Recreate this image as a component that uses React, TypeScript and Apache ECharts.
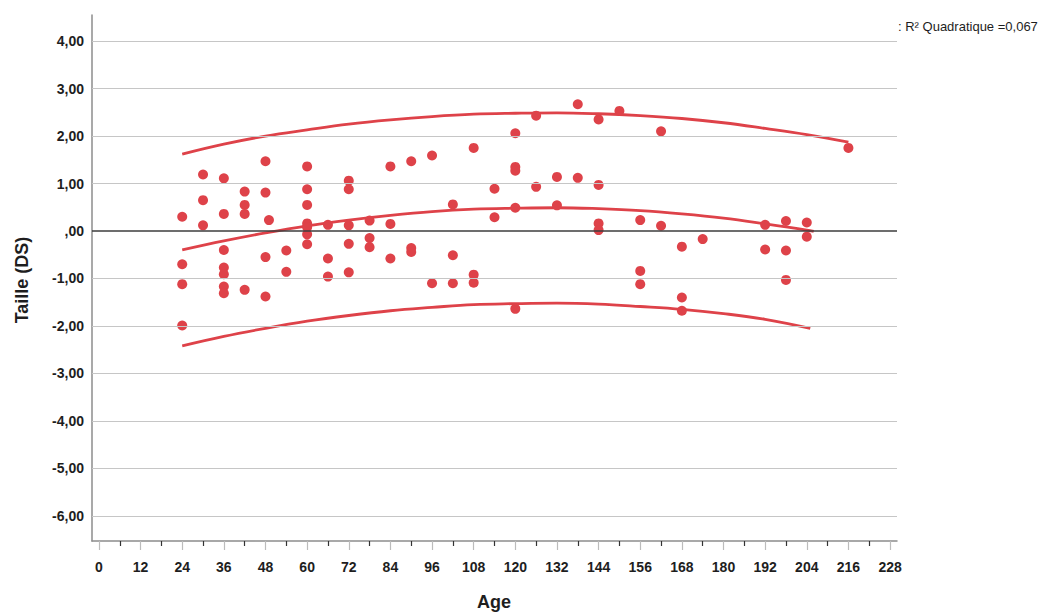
import React, { useEffect, useRef } from "react";
import * as echarts from "echarts";

// Scatter data (age in months, height SDS)
const pointAges = [
  24, 24, 24, 24,
  30, 30, 30,
  36, 36, 36, 36, 36, 36, 36,
  42, 42, 42, 42,
  48, 48, 49, 48, 48,
  54, 54,
  60, 60, 60, 60, 60, 60, 60,
  66, 66, 66,
  72, 72, 72, 72, 72,
  78, 78, 78,
  84, 84, 84,
  90, 90, 90,
  96, 96,
  102, 102, 102,
  108, 108, 108,
  114, 114,
  120, 120, 120, 120, 120,
  126, 126,
  132, 132,
  138, 138,
  144, 144, 144, 144,
  150,
  156, 156, 156,
  162, 162,
  168, 168, 168,
  174,
  192, 192,
  198, 198, 198,
  204, 204,
  216,
];
const pointValues = [
  0.3, -0.7, -1.12, -1.99,
  1.19, 0.65, 0.12,
  1.11, 0.36, -0.4, -0.77, -0.91, -1.17, -1.31,
  0.83, 0.55, 0.36, -1.24,
  1.47, 0.81, 0.23, -0.55, -1.38,
  -0.41, -0.86,
  1.36, 0.88, 0.55, 0.16, 0.08, -0.07, -0.28,
  0.13, -0.58, -0.96,
  1.06, 0.88, 0.12, -0.27, -0.87,
  0.22, -0.15, -0.34,
  1.36, 0.15, -0.58,
  1.47, -0.36, -0.44,
  1.59, -1.1,
  0.56, -0.51, -1.1,
  1.75, -0.92, -1.09,
  0.89, 0.29,
  2.06, 1.35, 1.27, 0.49, -1.64,
  2.43, 0.93,
  1.14, 0.54,
  2.67, 1.12,
  2.35, 0.97, 0.16, 0.02,
  2.53,
  0.23, -0.84, -1.12,
  2.1, 0.11,
  -0.33, -1.4, -1.68,
  -0.17,
  0.13, -0.39,
  0.21, -0.41, -1.03,
  0.18, -0.12,
  1.75,
];

// Quadratic fit and interval curves
const fitAges = [24, 36, 48, 60, 72, 84, 96, 108, 120, 132, 144, 156, 168, 180, 192, 204, 206];
const fitMean = [-0.4, -0.21, -0.04, 0.11, 0.23, 0.33, 0.41, 0.46, 0.48, 0.49, 0.47, 0.43, 0.36, 0.27, 0.15, 0.02, -0.01];
const upperAges = [24, 36, 48, 60, 72, 84, 96, 108, 120, 132, 144, 156, 168, 180, 192, 204, 216];
const upperValues = [1.62, 1.83, 2.0, 2.13, 2.25, 2.34, 2.41, 2.46, 2.48, 2.49, 2.47, 2.43, 2.37, 2.28, 2.16, 2.03, 1.87];
const lowerAges = [24, 36, 48, 60, 72, 84, 96, 108, 120, 132, 144, 156, 168, 180, 192, 205];
const lowerValues = [-2.42, -2.22, -2.05, -1.9, -1.78, -1.68, -1.61, -1.55, -1.53, -1.52, -1.54, -1.59, -1.65, -1.74, -1.86, -2.05];

// Axis ticks
const xMajorTicks = [0, 12, 24, 36, 48, 60, 72, 84, 96, 108, 120, 132, 144, 156, 168, 180, 192, 204, 216, 228];
const xMinorTicks = [6, 18, 30, 42, 54, 66, 78, 90, 102, 114, 126, 138, 150, 162, 174, 186, 198, 210, 222];
const yTicks = [4, 3, 2, 1, 0, -1, -2, -3, -4, -5, -6];

const FONT = "'Liberation Sans', Arial, Helvetica, sans-serif";
const RED = "#de4249";

function fmtY(v: number): string {
  if (Math.abs(v) < 1e-9) return ",00";
  return v.toFixed(2).replace(".", ",");
}

export default function App() {
  const ref = useRef<HTMLDivElement>(null);

  useEffect(() => {
    if (!ref.current) return;
    const chart = echarts.init(ref.current, null, { renderer: "svg" });

    const pairs = (xs: number[], ys: number[]) => xs.map((x, i) => [x, ys[i]]);
    const curveStyle = { color: RED, width: 2.8 };

    const option: any = {
      animation: false,
      backgroundColor: "#ffffff",
      textStyle: { fontFamily: FONT },
      grid: { left: 92, right: 152, top: 15, bottom: 73, containLabel: false },
      xAxis: [
        {
          type: "value",
          min: -2,
          max: 230,
          position: "bottom",
          axisLine: { show: true, onZero: false, lineStyle: { color: "#8c8c8c", width: 1.5 } },
          axisTick: { show: true, customValues: xMajorTicks, length: 9, lineStyle: { color: "#bcbcbc", width: 1.2 } },
          axisLabel: {
            customValues: xMajorTicks,
            fontWeight: "bold",
            fontSize: 14,
            color: "#1e1e1e",
            margin: 19,
            fontFamily: FONT,
          },
          splitLine: { show: false },
        },
        {
          type: "value",
          min: -2,
          max: 230,
          position: "bottom",
          offset: 0,
          axisLine: { show: false, onZero: false },
          axisTick: { show: true, customValues: xMinorTicks, length: 5, lineStyle: { color: "#333333", width: 1.2 } },
          axisLabel: { show: false },
          splitLine: { show: false },
        },
      ],
      yAxis: {
        type: "value",
        min: -6.53,
        max: 4.55,
        axisLine: { show: true, onZero: false, lineStyle: { color: "#8c8c8c", width: 1.5 } },
        axisTick: { show: false },
        axisLabel: {
          customValues: yTicks,
          formatter: (v: number) => fmtY(v),
          fontWeight: "bold",
          fontSize: 14,
          color: "#1e1e1e",
          margin: 8,
          fontFamily: FONT,
        },
        splitLine: { show: false },
      },
      series: [
        {
          type: "line",
          data: [],
          z: 1,
          silent: true,
          markLine: {
            silent: true,
            symbol: "none",
            label: { show: false },
            animation: false,
            data: yTicks.map((v) => ({
              yAxis: v,
              lineStyle: v === 0 ? { color: "#3c3c3c", width: 1.6, type: "solid" } : { color: "#c6c6c6", width: 1, type: "solid" },
            })),
          },
        },
        {
          type: "line",
          data: pairs(upperAges, upperValues),
          smooth: 0.4,
          showSymbol: false,
          lineStyle: curveStyle,
          z: 3,
          silent: true,
        },
        {
          type: "line",
          data: pairs(fitAges, fitMean),
          smooth: 0.4,
          showSymbol: false,
          lineStyle: curveStyle,
          z: 3,
          silent: true,
        },
        {
          type: "line",
          data: pairs(lowerAges, lowerValues),
          smooth: 0.4,
          showSymbol: false,
          lineStyle: curveStyle,
          z: 3,
          silent: true,
        },
        {
          type: "scatter",
          data: pairs(pointAges, pointValues),
          symbol: "circle",
          symbolSize: 10,
          itemStyle: { color: RED, opacity: 1 },
          z: 4,
        },
      ],
      graphic: [
        {
          type: "text",
          x: 494,
          y: 602,
          style: {
            text: "Age",
            fontFamily: FONT,
            fontWeight: "bold",
            fontSize: 18,
            fill: "#1e1e1e",
            align: "center",
            verticalAlign: "middle",
          },
        },
        {
          type: "text",
          x: 22,
          y: 280,
          rotation: Math.PI / 2,
          style: {
            text: "Taille (DS)",
            fontFamily: FONT,
            fontWeight: "bold",
            fontSize: 18,
            fill: "#1e1e1e",
            align: "center",
            verticalAlign: "middle",
          },
        },
        {
          type: "text",
          x: 898,
          y: 26,
          style: {
            text: ": R² Quadratique =0,067",
            fontFamily: FONT,
            fontSize: 13,
            fill: "#1e1e1e",
            align: "left",
            verticalAlign: "middle",
          },
        },
      ],
    };

    chart.setOption(option);
    return () => chart.dispose();
  }, []);

  return (
    <div
      ref={ref}
      style={{ position: "fixed", left: 0, top: 0, width: 1049, height: 614, background: "#fff" }}
    />
  );
}
